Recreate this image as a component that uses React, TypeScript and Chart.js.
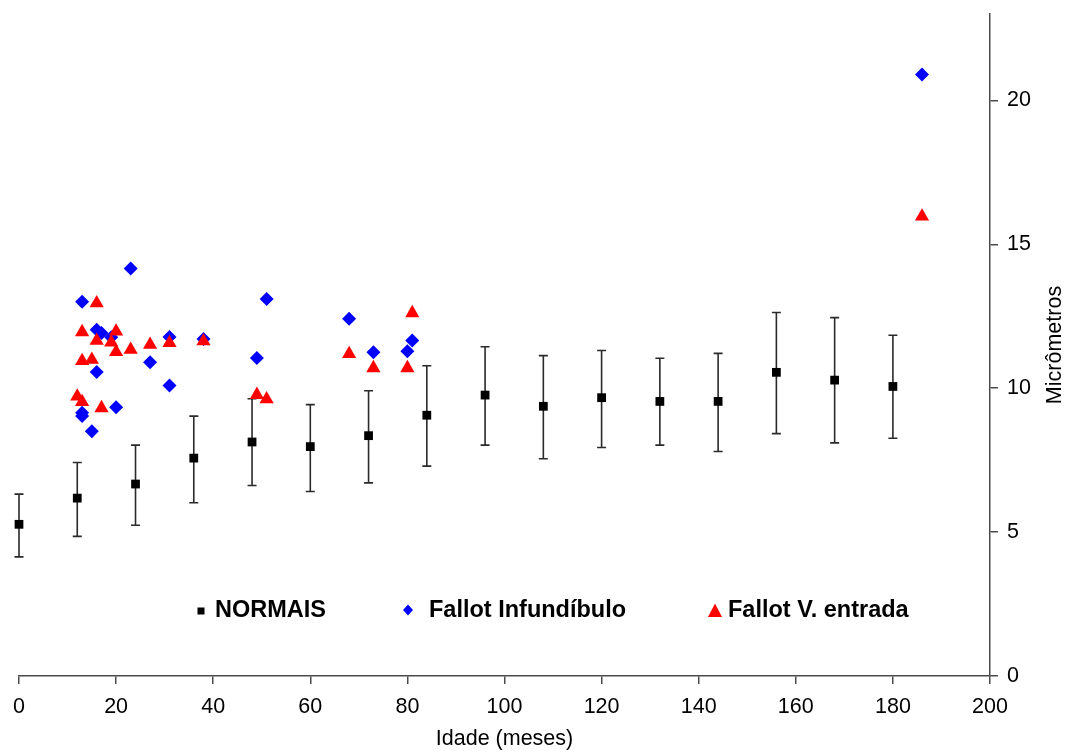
import { useEffect, useRef } from 'react';
import { Chart, registerables } from 'chart.js';

Chart.register(...registerables);

// Normal group: age (months), mean value and the ends of each error bar
const normaisAge = [0, 12, 24, 36, 48, 60, 72, 84, 96, 108, 120, 132, 144, 156, 168, 180];
const normaisMean = [5.27, 6.18, 6.67, 7.57, 8.13, 7.97, 8.35, 9.06, 9.76, 9.37, 9.67, 9.54, 9.54, 10.55, 10.28, 10.06];
const normaisUpper = [6.32, 7.42, 8.02, 9.03, 9.63, 9.43, 9.91, 10.78, 11.44, 11.13, 11.31, 11.04, 11.21, 12.63, 12.45, 11.84];
const normaisLower = [4.14, 4.85, 5.24, 6.02, 6.62, 6.41, 6.71, 7.29, 8.02, 7.55, 7.94, 8.02, 7.8, 8.42, 8.1, 8.26];

// Fallot, infundibulum
const infundibuloAge = [13, 13, 13, 15, 16, 17, 16, 19, 20, 23, 27, 31, 31, 38, 49, 51, 68, 73, 80, 81, 186];
const infundibuloValue = [13.0, 9.15, 9.03, 8.5, 12.03, 11.92, 10.56, 11.77, 9.34, 14.16, 10.9, 11.78, 10.09, 11.71, 11.05, 13.1, 12.41, 11.25, 11.28, 11.66, 20.9];

// Fallot, inlet ventricle
const entradaAge = [16, 13, 16, 20, 19, 20, 23, 27, 31, 38, 13, 15, 12, 13, 17, 49, 51, 81, 68, 73, 80, 186];
const entradaValue = [12.95, 11.95, 11.65, 11.97, 11.59, 11.26, 11.34, 11.51, 11.57, 11.63, 10.95, 10.99, 9.71, 9.52, 9.31, 9.77, 9.62, 12.61, 11.19, 10.7, 10.7, 15.97];

const seriesLabels = ['NORMAIS', 'Fallot Infundíbulo', 'Fallot V. entrada'];
const xTitle = 'Idade (meses)';
const yTitle = 'Micrômetros';

const FONT = '"Liberation Sans", Arial, sans-serif';
const AXIS_COLOR = '#4a4a4a';

const errorBars = {
  id: 'errorBars',
  beforeDatasetsDraw(chart: any) {
    const { ctx, scales } = chart;
    const x = scales.x;
    const y = scales.y;
    ctx.save();
    ctx.strokeStyle = '#2a2a2a';
    ctx.lineWidth = 1.6;
    normaisAge.forEach((age, i) => {
      const px = x.getPixelForValue(age);
      const top = y.getPixelForValue(normaisUpper[i]);
      const bot = y.getPixelForValue(normaisLower[i]);
      ctx.beginPath();
      ctx.moveTo(px, top);
      ctx.lineTo(px, bot);
      ctx.moveTo(px - 4.5, top);
      ctx.lineTo(px + 4.5, top);
      ctx.moveTo(px - 4.5, bot);
      ctx.lineTo(px + 4.5, bot);
      ctx.stroke();
    });
    ctx.restore();
  },
};

const innerLegend = {
  id: 'innerLegend',
  afterDraw(chart: any) {
    const { ctx, chartArea } = chart;
    const cy = chartArea.bottom - 66;
    const left = chartArea.left;
    ctx.save();
    // markers
    ctx.fillStyle = '#000000';
    ctx.fillRect(left + 182 - 3.5, cy + 1 - 3.5, 7, 7);
    ctx.fillStyle = '#0000ff';
    ctx.beginPath();
    ctx.moveTo(left + 389, cy - 5.5);
    ctx.lineTo(left + 394, cy);
    ctx.lineTo(left + 389, cy + 5.5);
    ctx.lineTo(left + 384, cy);
    ctx.closePath();
    ctx.fill();
    ctx.fillStyle = '#ff0000';
    ctx.beginPath();
    ctx.moveTo(left + 696, cy - 6.5);
    ctx.lineTo(left + 703, cy + 7);
    ctx.lineTo(left + 689, cy + 7);
    ctx.closePath();
    ctx.fill();
    // labels
    ctx.fillStyle = '#000000';
    ctx.font = `bold 23.5px ${FONT}`;
    ctx.textBaseline = 'middle';
    ctx.textAlign = 'left';
    ctx.fillText(seriesLabels[0], left + 196, cy + 1);
    ctx.fillText(seriesLabels[1], left + 410, cy + 1);
    ctx.fillText(seriesLabels[2], left + 709, cy + 1);
    ctx.restore();
  },
};

const yAxisTitle = {
  id: 'yAxisTitle',
  afterDraw(chart: any) {
    const { ctx, chartArea } = chart;
    ctx.save();
    ctx.translate(1055, (chartArea.top + chartArea.bottom) / 2);
    ctx.rotate(-Math.PI / 2);
    ctx.fillStyle = '#000000';
    ctx.font = `21.5px ${FONT}`;
    ctx.textAlign = 'center';
    ctx.textBaseline = 'middle';
    ctx.fillText(yTitle, 0, 0);
    ctx.restore();
  },
};

export default function App() {
  const canvasRef = useRef<HTMLCanvasElement | null>(null);

  useEffect(() => {
    const canvas = canvasRef.current;
    if (!canvas) return;
    const chart = new Chart(canvas, {
      type: 'scatter',
      data: {
        datasets: [
          {
            label: seriesLabels[2],
            data: entradaAge.map((a, i) => ({ x: a, y: entradaValue[i] })),
            pointStyle: 'triangle',
            pointRadius: 8.2,
            backgroundColor: '#ff0000',
            borderColor: '#ff0000',
            borderWidth: 0,
            order: 0,
            clip: false,
          },
          {
            label: seriesLabels[1],
            data: infundibuloAge.map((a, i) => ({ x: a, y: infundibuloValue[i] })),
            pointStyle: 'rectRot',
            pointRadius: 7,
            backgroundColor: '#0000ff',
            borderColor: '#0000ff',
            borderWidth: 0,
            order: 1,
            clip: false,
          },
          {
            label: seriesLabels[0],
            data: normaisAge.map((a, i) => ({ x: a, y: normaisMean[i] })),
            pointStyle: 'rect',
            pointRadius: 6.2,
            backgroundColor: '#000000',
            borderColor: '#000000',
            borderWidth: 0,
            order: 2,
            clip: false,
          },
        ],
      },
      options: {
        responsive: false,
        animation: false,
        events: [],
        layout: { padding: { left: 19, top: 14, right: 0, bottom: 0 } },
        plugins: {
          legend: { display: false },
          tooltip: { enabled: false },
        },
        scales: {
          x: {
            type: 'linear',
            position: 'bottom',
            min: 0,
            max: 200,
            ticks: {
              stepSize: 20,
              color: '#000000',
              font: { family: FONT, size: 21.5 },
              padding: 10,
              maxRotation: 0,
            },
            grid: { drawOnChartArea: false, drawTicks: true, tickLength: 8, color: AXIS_COLOR, lineWidth: 1.5 },
            border: { display: true, color: AXIS_COLOR, width: 1.5 },
            title: {
              display: true,
              text: xTitle,
              color: '#000000',
              font: { family: FONT, size: 21.5 },
              padding: { top: 0, bottom: 2 },
            },
            afterFit(scale: any) {
              scale.height = 78;
              scale.paddingLeft = 0;
              scale.paddingRight = 0;
            },
          },
          y: {
            type: 'linear',
            position: 'right',
            min: 0,
            max: 23,
            ticks: {
              stepSize: 5,
              includeBounds: false,
              color: '#000000',
              font: { family: FONT, size: 21.5 },
              padding: 9,
            },
            grid: { drawOnChartArea: false, drawTicks: true, tickLength: 8, color: AXIS_COLOR, lineWidth: 1.5 },
            border: { display: true, color: AXIS_COLOR, width: 1.5 },
            afterFit(scale: any) {
              scale.width = 76;
              scale.paddingTop = 0;
              scale.paddingBottom = 0;
            },
          },
        },
      },
      plugins: [errorBars, innerLegend, yAxisTitle],
    });
    return () => chart.destroy();
  }, []);

  return (
    <div style={{ position: 'absolute', left: 0, top: 0, width: 1066, height: 754, background: '#ffffff' }}>
      <canvas ref={canvasRef} width={1066} height={754} style={{ display: 'block' }} />
    </div>
  );
}
